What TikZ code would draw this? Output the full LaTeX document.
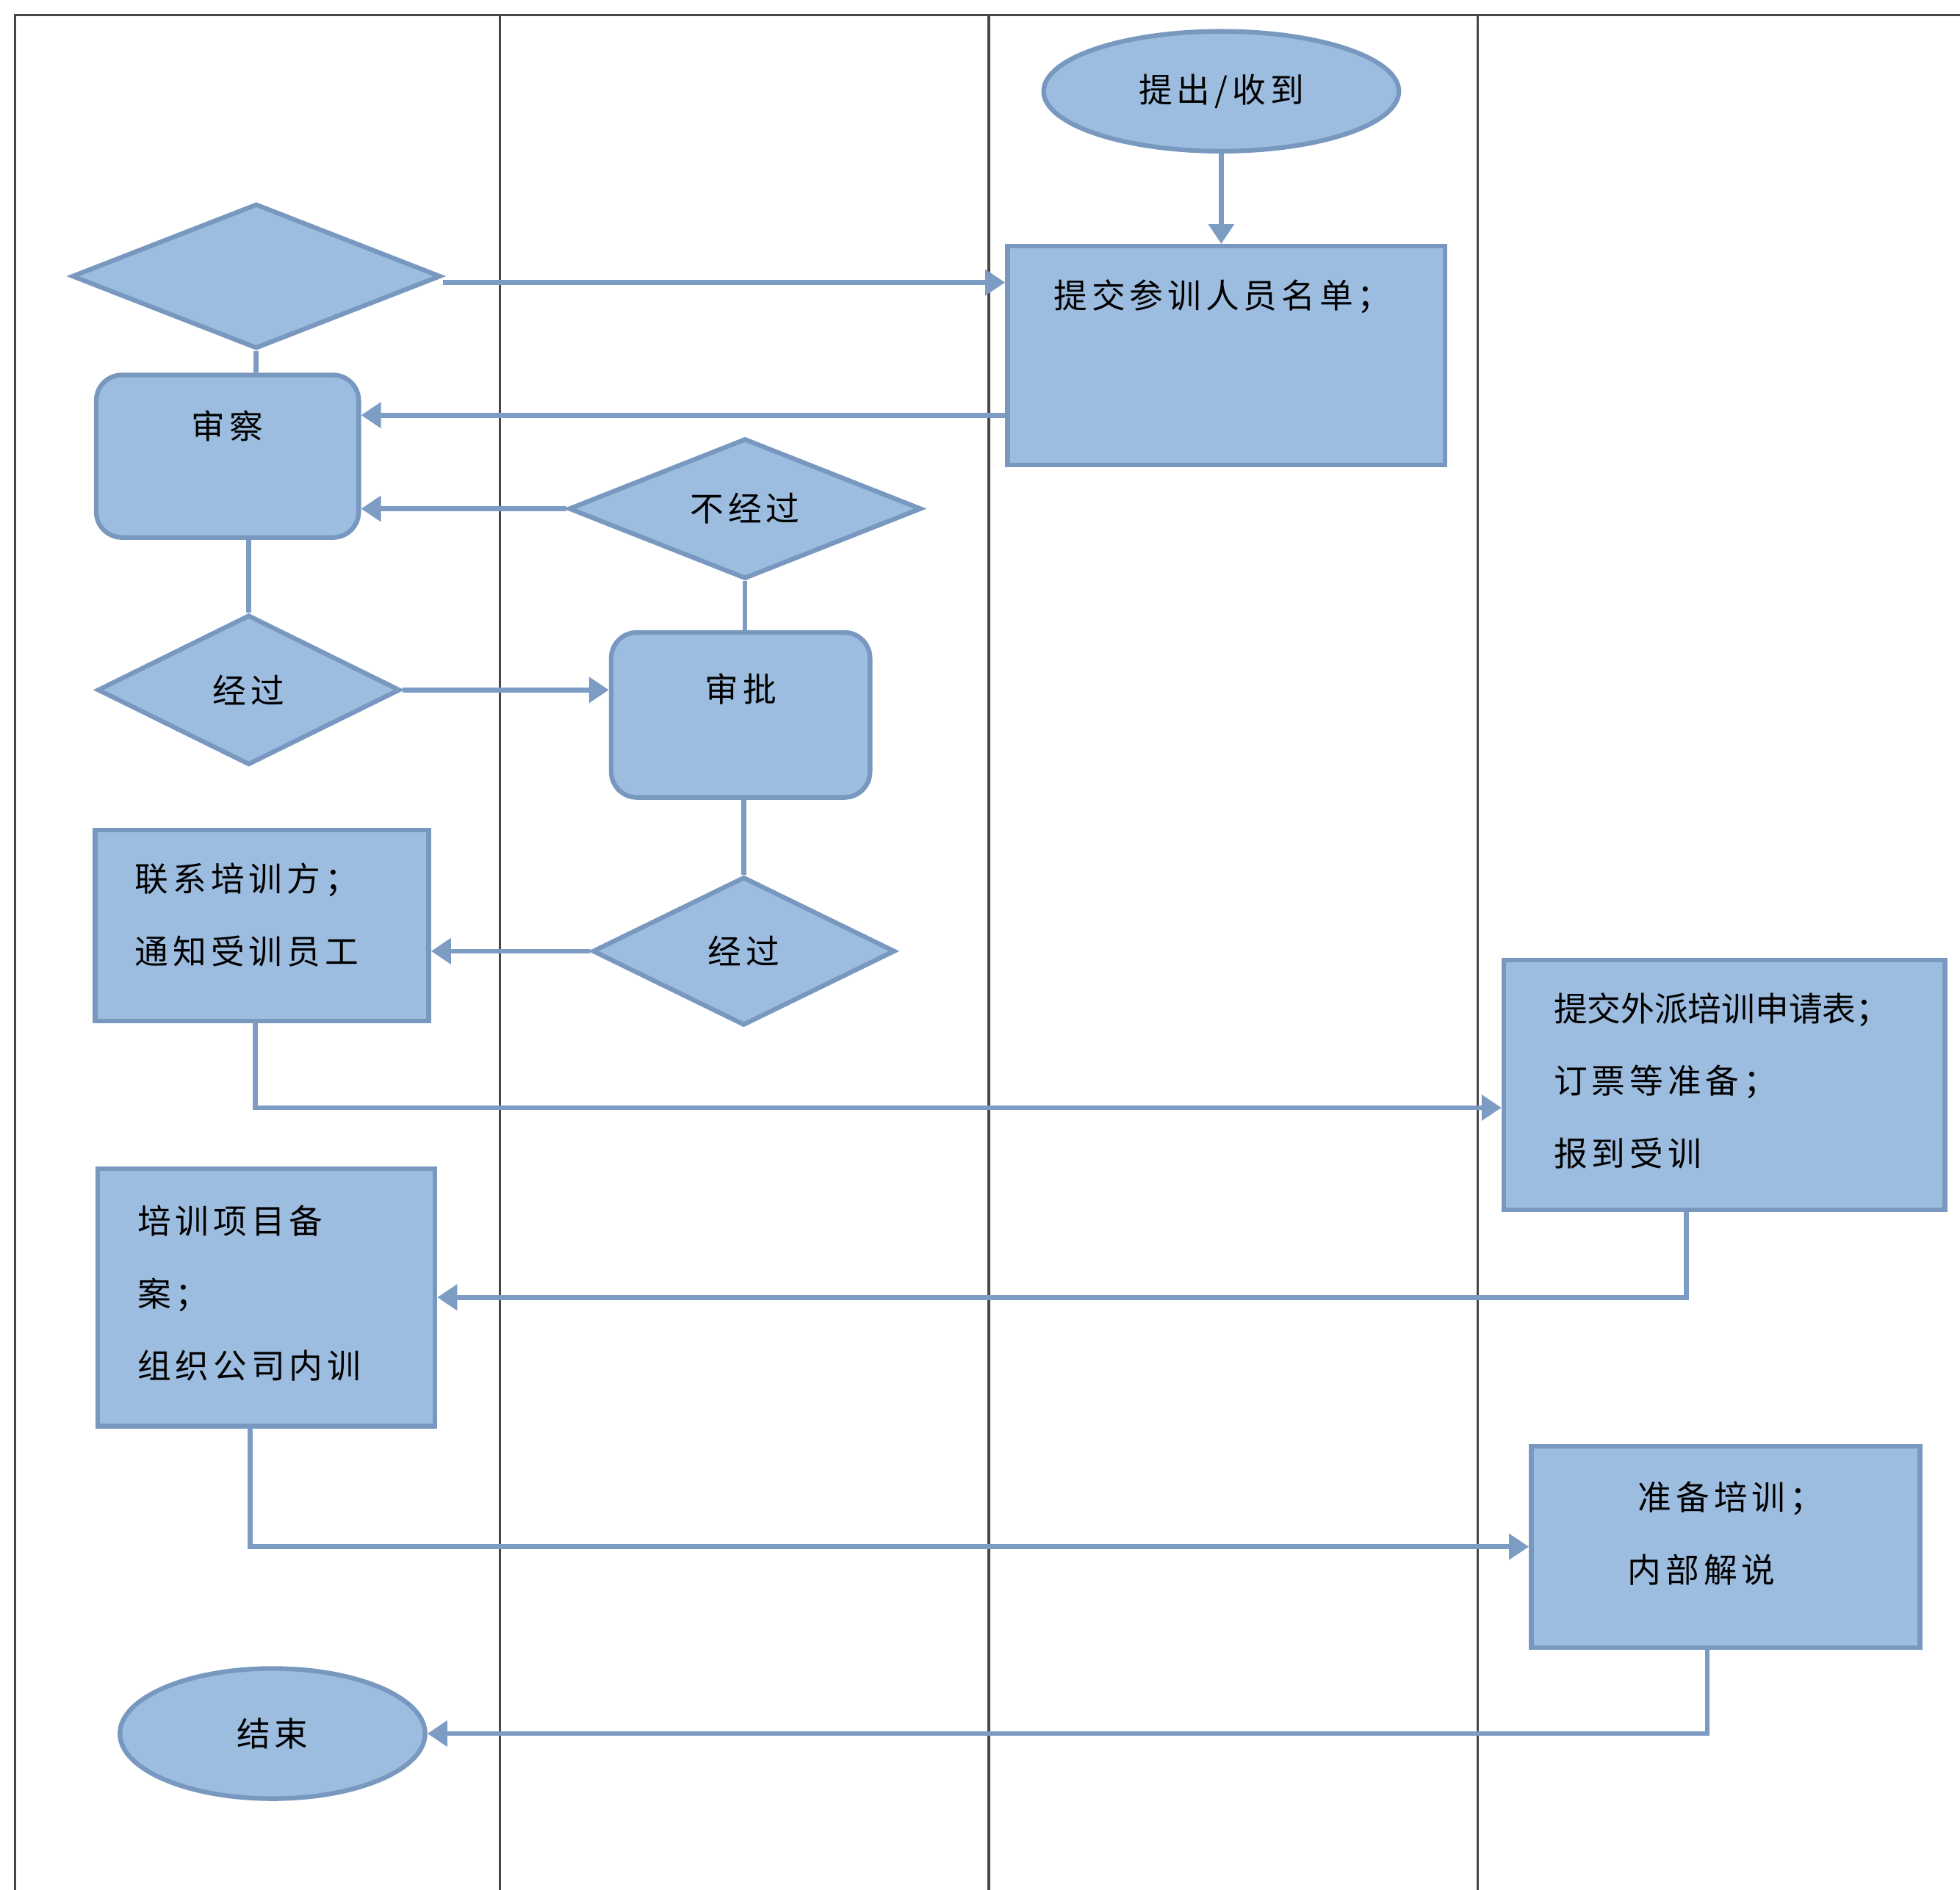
\documentclass[tikz,border=0pt]{standalone}
\usepackage{fontspec}
\newfontfamily\cjk[LetterSpace=13]{Noto Sans CJK SC}
\usetikzlibrary{shapes.geometric,arrows.meta}

\definecolor{boxfill}{RGB}{157,189,224}
\definecolor{boxline}{RGB}{120,152,192}
\definecolor{flowline}{RGB}{125,156,196}
\definecolor{laneline}{RGB}{70,70,70}

\begin{document}
\begin{tikzpicture}[x=0.017cm,y=-0.017cm,
    every node/.style={font=\cjk\fontsize{13}{28}\selectfont},
    box/.style={draw=boxline, fill=boxfill, line width=1.8pt, inner sep=0pt},
    procbox/.style={box, rectangle, align=left},
    roundbox/.style={box, rectangle, rounded corners=0.35cm},
    decision/.style={box, diamond},
    terminal/.style={box, ellipse},
    link/.style={draw=flowline, line width=1.9pt},
    flow/.style={link, -{Triangle[width=0.34cm,length=0.27cm]}},
    lane/.style={draw=laneline, line width=0.9pt}]
    \useasboundingbox (0,0) rectangle (1568,1512);

    % Draw the lanes
    \draw[lane] (12,1512) -- (12,12) -- (1568,12);
    \foreach \x in {400,791,1182}
        \draw[lane] (\x,12) -- (\x,1512);

    % Nodes
    \node[terminal, minimum width=4.83cm, minimum height=1.63cm] (start) at (977,73) {提出/收到};
    \node[procbox, text width=4.69cm, inner xsep=0.63cm, text height=0.84cm, text depth=2.135cm] (names) at (981,284.5) {提交参训人员名单；};
    \node[decision, minimum width=5.015cm, minimum height=1.97cm] (dq) at (205,221) {};
    \node[roundbox, minimum width=3.57cm, text height=0.87cm, text depth=1.34cm] (check) at (182,365) {审察};
    \node[decision, minimum width=4.794cm, minimum height=1.904cm] (notok) at (596,407) {不经过};
    \node[decision, minimum width=4.114cm, minimum height=2.04cm] (ok1) at (199,552) {经过};
    \node[roundbox, minimum width=3.52cm, text height=0.94cm, text depth=1.304cm] (approve) at (592.5,572) {审批};
    \node[decision, minimum width=4.114cm, minimum height=2.02cm] (ok2) at (595,761) {经过};
    \node[procbox, minimum height=2.6cm, text width=3.45cm, inner xsep=0.544cm] (contact) at (209.5,740.5) {联系培训方；\\通知受训员工\rule[-0.33cm]{0pt}{0pt}};
    \node[procbox, minimum height=3.4cm, text width=4.64cm, inner xsep=0.68cm] (apply) at (1379.5,868) {{\addfontfeature{LetterSpace=0}提交外派培训申请表；}\\订票等准备；\\报到受训\rule[-0.15cm]{0pt}{0pt}};
    \node[procbox, minimum height=3.5cm, text width=3.5cm, inner xsep=0.544cm] (record) at (213,1038) {培训项目备\\案；\\组织公司内训\rule[-0.15cm]{0pt}{0pt}};
    \node[procbox, minimum width=5.287cm, minimum height=2.737cm] (prepare) at (1380.5,1237.5) {\hspace*{0.14cm}准备培训；\\内部解说\rule[-0.4cm]{0pt}{0pt}};
    \node[terminal, minimum width=4.15cm, minimum height=1.77cm] (finish) at (218,1387) {结束};

    % Connectors
    \draw[flow] (start.south) -- (start.south |- names.north);
    \draw[flow] ([yshift=-0.085cm]dq.east) -- ([yshift=-0.085cm]dq.east -| names.west);
    \draw[link] (dq.south) -- (dq.south |- check.north);
    \path ([yshift=-0.81cm]names.west) coordinate (back);
    \draw[flow] (back) -- (back -| check.east);
    \draw[flow] (notok.west) -- (notok.west -| check.east);
    \draw[link] (ok1.north |- check.south) -- (ok1.north);
    \draw[flow] (ok1.east) -- (ok1.east -| approve.west);
    \draw[link] (notok.south) -- (notok.south |- approve.north);
    \draw[link] (ok2.north |- approve.south) -- (ok2.north);
    \draw[flow] (ok2.west) -- (ok2.west -| contact.east);
    \draw[flow] ([xshift=-0.09cm]contact.south) |- ([yshift=-0.31cm]apply.west);
    \draw[flow] ([xshift=-0.52cm]apply.south) |- (record.east);
    \draw[flow] ([xshift=-0.22cm]record.south) |- (prepare.west);
    \draw[flow] ([xshift=-0.25cm]prepare.south) |- (finish.east);

\end{tikzpicture}
\end{document}
